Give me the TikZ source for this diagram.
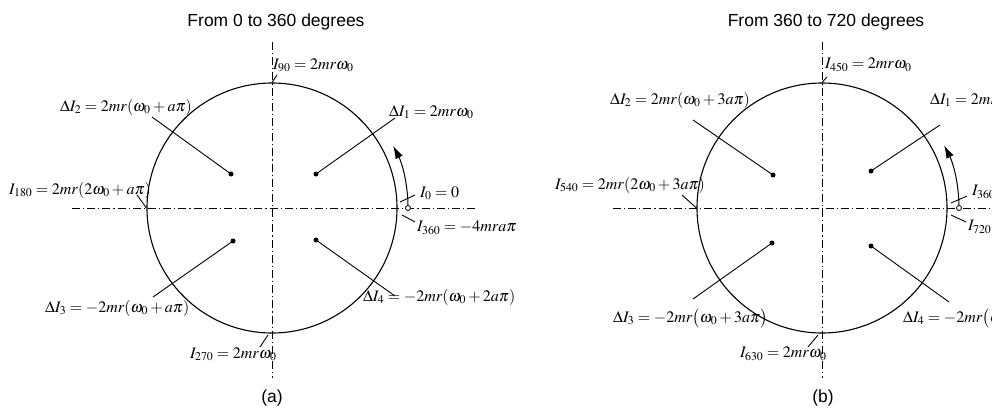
\documentclass[tikz,border=0pt]{standalone}
\usepackage{mathptmx}
\usepackage[no-math]{fontspec}
\newfontfamily\titlefont{Liberation Sans}
\usetikzlibrary{arrows.meta}
\tikzset{
 axisline/.style={line width=0.7pt, dash pattern=on 8pt off 3pt on 1.2pt off 3pt},
 rim/.style={draw, circle, line width=1.1pt, minimum size=250pt, inner sep=0pt},
 lead/.style={line width=0.9pt},
 dotm/.style={circle, fill=black, inner sep=0pt, minimum size=5pt},
 hole/.style={circle, draw, fill=white, inner sep=0pt, minimum size=5pt, line width=0.8pt},
 lab/.style={inner sep=0pt, anchor=west, font=\fontsize{16}{19}\selectfont},
 ttl/.style={inner sep=0pt, font=\titlefont\fontsize{17.5}{21}\selectfont},
 arr/.style={line width=1pt, -{Latex[length=13pt,width=8pt]}},
}
\begin{document}
\begin{tikzpicture}[x=1pt,y=-1pt]
\clip (0,0) rectangle (992,408);
% ---------- panel (a) ----------
\node[ttl] (ta) at (276,22) {From 0 to 360 degrees};
\coordinate (hal) at (72,208); \coordinate (har) at (477,208);
\coordinate (vat) at (272,42); \coordinate (vab) at (272,378);
\draw[axisline] (hal) -- (har);
\draw[axisline] (vat) -- (vab);
\node[rim] (ca) at (272,208) {};
\node[dotm] (a1) at (316,174) {};
\node[dotm] (a2) at (231,174) {};
\node[dotm] (a3) at (233,241) {};
\node[dotm] (a4) at (316,240) {};
\node[lab] (la1) at (389,112) {$\Delta I_1 = 2mr\omega_0$};
\node[lab] (la2) at (60,107) {$\Delta I_2 = 2mr(\omega_0+a\pi)$};
\node[lab] (la3) at (45,308) {$\Delta I_3 = -2mr(\omega_0+a\pi)$};
\node[lab] (la4) at (363,297) {$\Delta I_4 = -2mr(\omega_0+2a\pi)$};
\node[lab] (la90) at (273,65) {$I_{90} = 2mr\omega_0$};
\node[lab] (la180) at (9,190) {$I_{180} = 2mr(2\omega_0+a\pi)$};
\node[lab] (la270) at (190,354) {$I_{270} = 2mr\omega_0$};
\node[lab] (la0) at (420,193) {$I_0 = 0$};
\node[lab] (la360) at (417,228) {$I_{360} = -4mra\pi$};
\coordinate (e1) at (395,118); \coordinate (e2) at (152,117);
\coordinate (e3) at (153,297); \coordinate (e4) at (395,296);
\draw[lead] (a1.center) -- (e1);
\draw[lead] (a2.center) -- (e2);
\draw[lead] (a3.center) -- (e3);
\draw[lead] (a4.center) -- (e4);
\coordinate (k90) at (277,75); \coordinate (k180) at (137,195);
\coordinate (k270) at (260,347); \coordinate (q270) at (268,335);
\coordinate (k0) at (415,195); \coordinate (q0) at (400,202);
\coordinate (k360) at (415,222); \coordinate (q360) at (402,215);
\draw[lead] (k90) -- (ca.north);
\draw[lead] (k180) -- (ca.west);
\draw[lead] (k270) -- (q270);
\draw[lead] (k0) -- (q0);
\draw[lead] (k360) -- (q360);
\node[hole] (ha) at (408,208) {};
\draw[arr] (ha.north) arc[start angle=-1, end angle=-27, radius=136];
\node[ttl] (capa) at (272,398) {(a)};
% ---------- panel (b) ----------
\node[ttl] (tb) at (826,22) {From 360 to 720 degrees};
\coordinate (hbl) at (613,208); \coordinate (hbr) at (1000,208);
\coordinate (vbt) at (822,42); \coordinate (vbb) at (822,378);
\draw[axisline] (hbl) -- (hbr);
\draw[axisline] (vbt) -- (vbb);
\node[rim] (cb) at (822,208) {};
\node[dotm] (b1) at (871,171) {};
\node[dotm] (b2) at (773,175) {};
\node[dotm] (b3) at (772,243) {};
\node[dotm] (b4) at (871,246) {};
\node[lab] (lb1) at (930,100) {$\Delta I_1 = 2mr\omega_0$};
\node[lab] (lb2) at (610,100) {$\Delta I_2 = 2mr(\omega_0+3a\pi)$};
\node[lab] (lb3) at (613,318) {$\Delta I_3 = -2mr\bigl(\omega_0+3a\pi\bigr)$};
\node[lab] (lb4) at (903,318) {$\Delta I_4 = -2mr\bigl(\omega_0$};
\node[lab] (lb450) at (825,65) {$I_{450} = 2mr\omega_0$};
\node[lab] (lb540) at (555,185) {$I_{540} = 2mr(2\omega_0+3a\pi)$};
\node[lab] (lb630) at (740,354) {$I_{630} = 2mr\omega_0$};
\node[lab] (lb360) at (972,192) {$I_{360}$};
\node[lab] (lb720) at (968,227) {$I_{720}$};
\coordinate (f1) at (940,125); \coordinate (f2) at (693,120);
\coordinate (f3) at (693,299); \coordinate (f4) at (949,302);
\draw[lead] (b1.center) -- (f1);
\draw[lead] (b2.center) -- (f2);
\draw[lead] (b3.center) -- (f3);
\draw[lead] (b4.center) -- (f4);
\coordinate (m450) at (827,77); \coordinate (m540) at (682,195);
\coordinate (m630) at (808,347); \coordinate (n630) at (818,335);
\coordinate (m360) at (967,196); \coordinate (n360) at (951,203);
\coordinate (m720) at (966,222); \coordinate (n720) at (951,215);
\draw[lead] (m450) -- (cb.north);
\draw[lead] (m540) -- (cb.west);
\draw[lead] (m630) -- (n630);
\draw[lead] (m360) -- (n360);
\draw[lead] (m720) -- (n720);
\node[hole] (hb) at (959,208) {};
\draw[arr] (hb.north) arc[start angle=-1, end angle=-27, radius=137];
\node[ttl] (capb) at (823,398) {(b)};
\end{tikzpicture}
\end{document}
